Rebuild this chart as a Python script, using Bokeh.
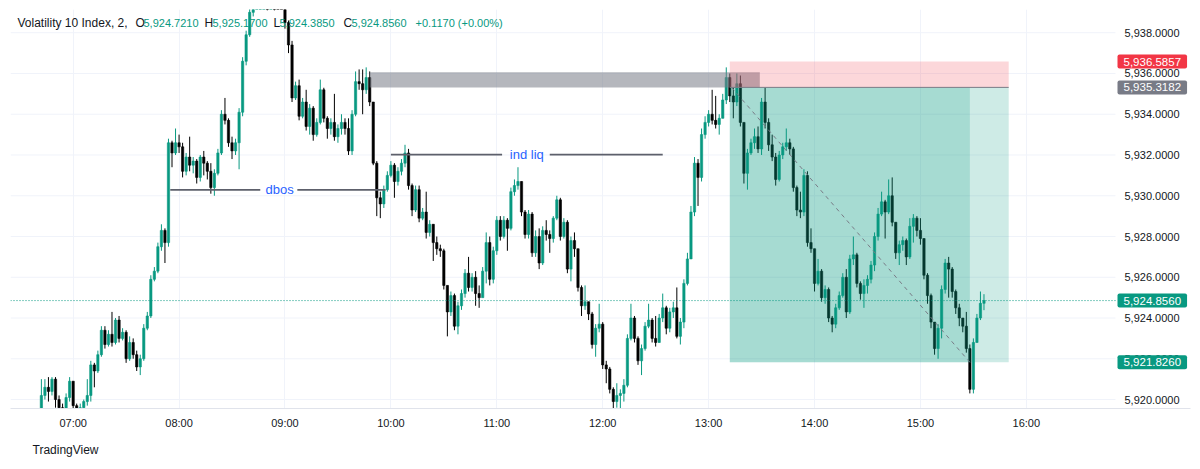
import numpy as np
import pandas as pd
from bokeh.plotting import figure
from bokeh.models import (Range1d, FixedTicker, DatetimeTickFormatter, Label,
                          ColumnDataSource)
from bokeh.embed import file_html
from bokeh.resources import INLINE

# ---------------- data ----------------
DAY = "2024-01-01"
FIRST_CANDLE = "06:42"          # 2-minute candles
FIRST_OPEN = 5919.5

CLOSE = [
    5920.2, 5920.6, 5920.4, 5921.0, 5920.0, 5919.6, 5919.3, 5920.1, 5920.9, 5919.7,
    5919.3, 5919.6, 5919.9, 5920.2, 5921.7, 5921.4, 5922.2, 5923.4, 5922.7, 5923.2,
    5922.8, 5923.9, 5923.0, 5923.3, 5922.0, 5922.8, 5922.2, 5921.6, 5922.0, 5923.5,
    5924.1, 5925.9, 5926.3, 5927.5, 5928.3, 5927.7, 5932.6, 5932.1, 5932.6, 5932.4,
    5931.2, 5931.9, 5931.5, 5931.7, 5930.9, 5931.9, 5931.6, 5931.2, 5930.4, 5931.1,
    5932.1, 5934.0, 5933.7, 5932.6, 5932.2, 5932.6, 5934.1, 5936.6, 5937.9, 5939.0,
    5940.0, 5940.6, 5941.0, 5941.3, 5940.8, 5941.2, 5940.7, 5940.5, 5940.0, 5938.5,
    5937.4, 5934.8, 5935.4, 5933.9, 5934.6, 5933.4, 5934.3, 5933.0, 5933.6, 5935.2,
    5933.8, 5933.3, 5933.6, 5932.9, 5933.3, 5933.6, 5933.3, 5932.2, 5934.0, 5935.6,
    5935.5, 5935.2, 5935.8, 5934.6, 5931.6, 5929.9, 5929.6, 5930.3, 5931.0, 5931.5,
    5930.7, 5931.2, 5931.6, 5932.1, 5930.5, 5929.3, 5930.3, 5928.9, 5929.2, 5928.2,
    5928.6, 5927.7, 5927.4, 5927.3, 5925.6, 5924.3, 5925.1, 5923.6, 5924.6, 5925.2,
    5926.2, 5925.5, 5926.0, 5925.2, 5925.0, 5926.3, 5927.7, 5925.9, 5927.3, 5928.8,
    5928.0, 5928.8, 5928.4, 5930.2, 5930.5, 5930.7, 5929.2, 5928.1, 5929.1, 5927.2,
    5928.0, 5926.7, 5928.3, 5928.1, 5927.9, 5928.9, 5929.8, 5928.0, 5928.7, 5926.4,
    5927.8, 5927.4, 5925.5, 5924.6, 5924.8, 5924.2, 5922.7, 5923.5, 5923.7, 5921.7,
    5921.5, 5920.5, 5919.9, 5920.2, 5920.3, 5920.7, 5923.0, 5924.0, 5923.0, 5921.9,
    5922.5, 5923.6, 5923.9, 5923.0, 5922.8, 5924.0, 5924.5, 5923.5, 5924.3, 5924.5,
    5923.1, 5923.8, 5925.7, 5926.9, 5929.2, 5931.6, 5930.9, 5933.0, 5933.6, 5934.0,
    5933.7, 5933.5, 5933.8, 5934.7, 5935.8, 5934.9, 5934.6, 5935.5, 5933.6, 5931.1,
    5932.1, 5932.6, 5932.9, 5932.3, 5934.6, 5933.6, 5932.5, 5931.9, 5930.8, 5932.0,
    5932.4, 5932.6, 5932.3, 5930.4, 5929.3, 5929.2, 5931.0, 5927.7, 5927.4, 5925.7,
    5926.3, 5925.0, 5925.4, 5924.0, 5923.7, 5924.5, 5925.1, 5926.0, 5924.3, 5926.9,
    5927.1, 5925.7, 5925.2, 5925.6, 5925.9, 5926.6, 5928.0, 5929.1, 5929.7, 5929.2,
    5930.0, 5928.7, 5927.2, 5927.6, 5927.8, 5927.0, 5928.5, 5928.9, 5928.3, 5927.9,
    5926.1, 5925.1, 5923.8, 5922.5, 5923.5, 5925.4, 5926.7, 5926.4, 5925.3, 5924.5,
    5924.0, 5923.6, 5922.5, 5920.5, 5922.8, 5924.0, 5924.721, 5924.856,
]
HIGH = [
    5921.0, 5921.0, 5921.1, 5921.1, 5921.1, 5920.2, 5919.8, 5920.3, 5921.1, 5920.9,
    5919.8, 5919.8, 5920.0, 5921.0, 5921.9, 5921.8, 5922.4, 5923.6, 5923.6, 5923.4,
    5924.3, 5924.0, 5924.1, 5923.5, 5923.4, 5923.1, 5923.0, 5922.4, 5922.2, 5923.7,
    5924.3, 5926.1, 5926.5, 5927.7, 5928.6, 5928.4, 5932.8, 5932.7, 5933.3, 5933.0,
    5932.6, 5932.1, 5932.9, 5931.9, 5931.8, 5932.0, 5932.2, 5931.7, 5931.6, 5931.3,
    5932.3, 5934.2, 5934.8, 5933.8, 5932.9, 5932.8, 5934.3, 5936.8, 5938.1, 5939.3,
    5940.3, 5941.0, 5941.5, 5941.8, 5941.6, 5941.6, 5941.4, 5941.0, 5940.8, 5940.3,
    5938.6, 5937.6, 5935.6, 5935.7, 5934.8, 5935.2, 5934.5, 5934.4, 5933.8, 5935.7,
    5935.3, 5933.9, 5933.8, 5935.0, 5933.5, 5934.0, 5933.8, 5933.8, 5934.2, 5936.1,
    5936.2, 5936.2, 5936.3, 5936.1, 5934.6, 5931.7, 5930.2, 5930.5, 5931.2, 5931.7,
    5931.6, 5931.4, 5931.8, 5932.5, 5932.3, 5930.6, 5930.5, 5930.5, 5929.4, 5930.2,
    5928.8, 5928.6, 5928.0, 5927.6, 5927.4, 5925.6, 5925.3, 5925.2, 5924.8, 5925.4,
    5926.4, 5927.0, 5926.2, 5926.3, 5925.6, 5926.5, 5928.2, 5928.0, 5927.5, 5929.0,
    5929.0, 5929.0, 5928.9, 5930.4, 5930.8, 5931.4, 5930.7, 5929.3, 5929.3, 5929.2,
    5928.3, 5928.4, 5928.5, 5928.8, 5928.3, 5929.0, 5930.0, 5929.9, 5928.9, 5928.8,
    5928.0, 5928.2, 5927.4, 5925.6, 5925.6, 5924.8, 5924.3, 5923.7, 5924.7, 5923.8,
    5921.9, 5921.6, 5920.6, 5920.8, 5920.5, 5921.0, 5923.2, 5924.7, 5924.1, 5923.1,
    5922.7, 5923.8, 5924.7, 5924.0, 5924.1, 5924.2, 5925.2, 5924.6, 5924.5, 5924.8,
    5925.5, 5924.0, 5925.9, 5927.2, 5929.5, 5931.9, 5931.8, 5933.3, 5933.9, 5934.2,
    5935.2, 5934.9, 5934.0, 5935.0, 5936.3, 5936.0, 5935.3, 5936.0, 5935.9, 5933.6,
    5932.3, 5932.8, 5933.3, 5933.4, 5934.8, 5935.3, 5933.8, 5933.0, 5932.1, 5932.2,
    5932.6, 5933.3, 5932.8, 5932.4, 5930.5, 5930.2, 5931.3, 5931.2, 5928.4, 5927.4,
    5926.9, 5926.4, 5925.6, 5925.5, 5924.1, 5924.7, 5925.3, 5926.2, 5926.4, 5927.1,
    5928.0, 5927.2, 5925.8, 5925.9, 5926.1, 5926.8, 5928.2, 5929.4, 5930.2, 5929.8,
    5930.8, 5930.9, 5928.7, 5927.8, 5928.0, 5927.9, 5928.9, 5929.1, 5929.0, 5928.9,
    5927.9, 5926.2, 5925.2, 5923.8, 5923.7, 5925.6, 5926.9, 5927.0, 5926.5, 5925.4,
    5924.7, 5924.0, 5924.3, 5922.7, 5923.0, 5924.2, 5925.3, 5925.17,
]
LOW = [
    5919.3, 5920.0, 5919.9, 5920.2, 5919.6, 5919.2, 5919.0, 5919.2, 5919.9, 5919.3,
    5919.0, 5919.1, 5919.4, 5919.7, 5919.9, 5920.6, 5921.3, 5922.1, 5922.5, 5922.6,
    5922.6, 5922.7, 5922.8, 5922.9, 5921.8, 5921.9, 5922.0, 5921.4, 5921.2, 5921.9,
    5923.4, 5924.0, 5925.8, 5926.2, 5927.3, 5926.7, 5927.5, 5931.4, 5932.0, 5932.1,
    5930.9, 5931.0, 5931.2, 5931.1, 5930.6, 5930.7, 5931.0, 5930.8, 5930.1, 5930.0,
    5931.0, 5932.0, 5933.5, 5932.4, 5931.8, 5932.0, 5931.3, 5933.9, 5936.4, 5937.8,
    5938.8, 5939.8, 5939.15, 5940.3, 5939.1, 5940.5, 5939.1, 5940.0, 5939.6, 5938.2,
    5937.0, 5934.6, 5934.7, 5933.7, 5933.8, 5933.2, 5933.0, 5932.7, 5932.9, 5933.5,
    5933.6, 5932.8, 5933.0, 5932.7, 5932.6, 5933.0, 5933.0, 5932.0, 5932.0, 5933.9,
    5935.2, 5934.0, 5935.0, 5934.4, 5931.5, 5929.0, 5928.9, 5929.4, 5930.2, 5930.9,
    5929.9, 5930.5, 5931.0, 5931.4, 5930.3, 5929.0, 5929.2, 5928.7, 5928.8, 5927.9,
    5928.0, 5926.8, 5927.1, 5927.0, 5925.4, 5923.1, 5924.1, 5923.4, 5923.2, 5924.4,
    5925.0, 5925.3, 5925.3, 5924.6, 5924.5, 5925.4, 5925.7, 5925.6, 5925.7, 5927.1,
    5927.8, 5927.9, 5927.3, 5928.3, 5930.0, 5930.3, 5929.0, 5927.9, 5927.9, 5927.0,
    5927.0, 5926.4, 5926.6, 5927.8, 5927.2, 5927.7, 5928.8, 5927.8, 5927.9, 5926.2,
    5925.8, 5927.0, 5925.3, 5924.1, 5924.4, 5923.9, 5922.5, 5922.1, 5923.3, 5921.5,
    5920.8, 5920.3, 5919.5, 5919.6, 5919.5, 5919.9, 5920.6, 5922.9, 5922.8, 5921.7,
    5921.2, 5922.4, 5923.5, 5922.8, 5922.6, 5922.8, 5923.8, 5923.2, 5923.3, 5924.0,
    5923.0, 5922.7, 5923.5, 5925.6, 5926.9, 5929.0, 5929.5, 5930.7, 5932.8, 5933.4,
    5933.5, 5933.3, 5933.0, 5933.8, 5934.5, 5934.6, 5933.8, 5934.4, 5933.4, 5930.6,
    5930.3, 5932.0, 5932.3, 5932.1, 5932.0, 5933.3, 5932.2, 5931.7, 5930.5, 5930.7,
    5931.8, 5932.2, 5932.0, 5930.2, 5929.0, 5928.9, 5929.0, 5927.5, 5927.2, 5925.3,
    5925.6, 5924.8, 5924.7, 5923.8, 5923.3, 5923.5, 5924.4, 5925.0, 5924.0, 5924.2,
    5926.6, 5925.5, 5924.9, 5924.5, 5925.2, 5925.7, 5926.3, 5927.8, 5929.0, 5927.9,
    5929.1, 5928.5, 5926.9, 5926.6, 5927.3, 5926.6, 5926.9, 5927.7, 5928.0, 5927.6,
    5925.9, 5924.7, 5923.5, 5922.2, 5922.0, 5923.0, 5925.2, 5925.0, 5925.0, 5924.2,
    5923.6, 5923.3, 5922.3, 5920.3, 5920.3, 5922.8, 5923.9, 5924.385,
]

PRICE_TICKS = [5920, 5922, 5924, 5926, 5928, 5930, 5932, 5934, 5936, 5938]
TIME_TICKS = ["07:00", "08:00", "09:00", "10:00", "11:00", "12:00",
              "13:00", "14:00", "15:00", "16:00"]
VIEW_TIME = ["06:24:30", "17:33:00"]
SCALE_EDGE = "16:50:30"          # where the price scale column starts
VIEW_PRICE = [5919.56, 5939.14]

LEGEND_SYMBOL = "Volatility 10 Index, 2,"
LEGEND_KEYS = ["O", "H", "L", "C"]
LEGEND_VALUES = ["5,924.7210", "5,925.1700", "5,924.3850", "5,924.8560"]
LEGEND_CHANGE = "+0.1170 (+0.00%)"
LAST_PRICE = 5924.8560

# drawings on the chart
ZONE_TIME = ["09:48", "13:29"]
ZONE_PRICE = [5935.3182, 5936.06]
POS_TIME = ["13:12", "15:28", "15:50"]          # start, exit, end
POS_ENTRY, POS_STOP, POS_TARGET = 5935.3182, 5936.5857, 5921.8260
DBOS_PRICE = 5930.29
DBOS_SEGMENTS = [["07:55", "08:46"], ["09:07", "09:57"]]
DBOS_LABEL = ["08:57", "dbos"]
LIQ_PRICE = 5932.02
LIQ_SEGMENTS = [["10:00", "11:03"], ["11:30", "12:34"]]
LIQ_LABEL = ["11:17", "ind liq"]
TAGS = [(5936.5857, "5,936.5857", "#f23645"),
        (5935.3182, "5,935.3182", "#787b86"),
        (5924.8560, "5,924.8560", "#089981"),
        (5921.8260, "5,921.8260", "#089981")]

# ---------------- helpers ----------------
GREEN = "#089981"
DARK = "#131722"
FONT = "Liberation Sans"


def ts(hm):
    return pd.Timestamp(f"{DAY} {hm}")


def ms(hm):
    return ts(hm).value / 1e6


t = pd.date_range(f"{DAY} {FIRST_CANDLE}", periods=len(CLOSE), freq="2min")
close = np.array(CLOSE)
open_ = np.r_[FIRST_OPEN, close[:-1]]
color = np.where(close >= open_, GREEN, "#000000")
src = ColumnDataSource(dict(t=t, h=HIGH, l=LOW,
                            top=np.maximum(open_, close),
                            bottom=np.minimum(open_, close),
                            color=color))

p = figure(width=1200, height=469, x_axis_type="datetime", y_axis_location=None,
           x_range=Range1d(ts(VIEW_TIME[0]), ts(VIEW_TIME[1])),
           y_range=Range1d(VIEW_PRICE[0], VIEW_PRICE[1]),
           output_backend="svg", toolbar_location=None,
           title="TradingView", title_location="below",
           min_border_left=10, min_border_right=10, min_border_top=9,
           min_border_bottom=61)
p.outline_line_color = None
p.background_fill_color = "white"
p.border_fill_color = "white"
p.title.align = "left"
p.title.offset = 22
p.title.text_font = FONT
p.title.text_font_size = "12px"
p.title.text_font_style = "normal"
p.title.text_color = DARK
p.title.standoff = 19

# time axis
p.xaxis.ticker = FixedTicker(ticks=[ms(h) for h in TIME_TICKS])
p.xaxis.formatter = DatetimeTickFormatter(hours="%H:%M", hourmin="%H:%M",
                                          minutes="%H:%M", days="%H:%M",
                                          strip_leading_zeros=False)
p.xaxis.major_tick_line_color = None
p.xaxis.minor_tick_line_color = None
p.xaxis.major_label_text_font = FONT
p.xaxis.major_label_text_font_size = "11px"
p.xaxis.major_label_text_color = DARK
p.xaxis.axis_line_color = "#e0e3eb"
p.xaxis.major_label_standoff = 2
p.xgrid.ticker = FixedTicker(ticks=[ms(h) for h in TIME_TICKS])
p.xgrid.grid_line_color = "#f0f3fa"
p.ygrid.visible = False

# horizontal grid of the price scale (stops at the scale column)
n = len(PRICE_TICKS)
p.segment(x0=[ts(VIEW_TIME[0])] * n, x1=[ts(SCALE_EDGE)] * n, y0=PRICE_TICKS,
          y1=PRICE_TICKS, line_color="#f0f3fa", line_width=1)

# candles
p.segment(x0="t", y0="h", x1="t", y1="l", line_color="color", line_width=1, source=src)
p.vbar(x="t", width=78000, top="top", bottom="bottom", fill_color="color",
       line_color="color", line_width=0.6, source=src)

# supply zone (grey)
p.quad(left=[ts(ZONE_TIME[0])], right=[ts(ZONE_TIME[1])], bottom=[ZONE_PRICE[0]],
       top=[ZONE_PRICE[1]], fill_color="#787b86", fill_alpha=0.55, line_color=None)

# short position tool
p0, pexit, p1 = ts(POS_TIME[0]), ts(POS_TIME[1]), ts(POS_TIME[2])
p.quad(left=[p0], right=[p1], bottom=[POS_ENTRY], top=[POS_STOP],
       fill_color="#f23645", fill_alpha=0.2, line_color=None)
p.quad(left=[p0], right=[p1], bottom=[POS_TARGET], top=[POS_ENTRY],
       fill_color=GREEN, fill_alpha=0.2, line_color=None)
p.quad(left=[p0], right=[pexit], bottom=[POS_TARGET], top=[POS_ENTRY],
       fill_color=GREEN, fill_alpha=0.2, line_color=None)
p.line([p0, p1], [POS_ENTRY, POS_ENTRY], line_color="#787b86", line_width=1)
p.line([p0 + pd.Timedelta(minutes=1), pexit], [POS_ENTRY, POS_TARGET],
       line_color="#787b86", line_width=1, line_dash="4 4")

# horizontal rays with text
for segs, price, (lt, txt) in ((DBOS_SEGMENTS, DBOS_PRICE, DBOS_LABEL),
                               (LIQ_SEGMENTS, LIQ_PRICE, LIQ_LABEL)):
    for a, b in segs:
        p.line([ts(a), ts(b)], [price, price], line_color="#5d606b", line_width=1.6)
    p.add_layout(Label(x=ms(lt), y=price, text=txt, text_color="#2962ff",
                       text_font=FONT, text_font_size="13px",
                       text_align="center", text_baseline="middle"))

# last price line (dotted, up to the price scale)
p.line([ts(VIEW_TIME[0]), ts(SCALE_EDGE)], [LAST_PRICE, LAST_PRICE],
       line_color=GREEN, line_dash="1 2", line_width=1)

# price scale labels
for v in PRICE_TICKS:
    p.add_layout(Label(x=1114, x_units="screen", y=v, y_units="data",
                       text=f"{v:,.4f}", text_color=DARK, text_font=FONT,
                       text_font_size="11px", text_baseline="middle"))
# coloured price tags on the scale
for price, txt, bg in TAGS:
    p.add_layout(Label(x=1107, x_units="screen", y=price, y_units="data", text=txt,
                       text_color="white", text_font=FONT, text_font_size="11.5px",
                       text_baseline="middle", text_align="left",
                       background_fill_color=bg, padding=(6, 3), border_radius=2))

# legend (top left)
LEG_Y = 5938.5
p.add_layout(Label(x=7, x_units="screen", y=LEG_Y, text=LEGEND_SYMBOL, text_color=DARK,
                   text_font=FONT, text_font_size="12px", text_baseline="middle"))
key_x = [125, 194, 263, 333]
for kx, k, v in zip(key_x, LEGEND_KEYS, LEGEND_VALUES):
    p.add_layout(Label(x=kx, x_units="screen", y=LEG_Y, text=k, text_color=DARK,
                       text_font=FONT, text_font_size="12px", text_baseline="middle"))
    p.add_layout(Label(x=kx + (6 if k == "L" else 8), x_units="screen", y=LEG_Y,
                       text=v, text_color=GREEN, text_font=FONT,
                       text_font_size="11px", text_baseline="middle"))
p.add_layout(Label(x=405, x_units="screen", y=LEG_Y, text=LEGEND_CHANGE, text_color=GREEN,
                   text_font=FONT, text_font_size="11px", text_baseline="middle"))

open("out.html", "w").write(file_html(p, INLINE))
